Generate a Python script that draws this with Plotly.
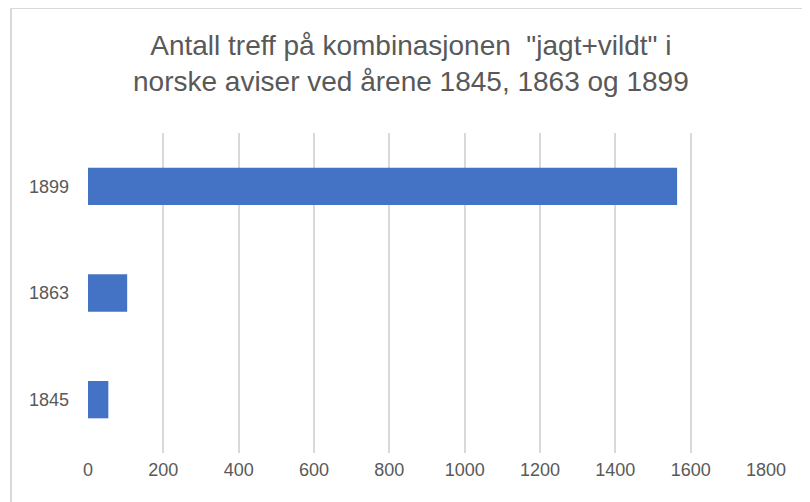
import plotly.graph_objects as go

categories = ["1845", "1863", "1899"]
values = [54, 104, 1564]
x_ticks = [0, 200, 400, 600, 800, 1000, 1200, 1400, 1600, 1800]
title_lines = ['Antall treff på kombinasjonen  "jagt+vildt" i', "norske aviser ved årene 1845, 1863 og 1899"]

# the page body has an 8px margin, so the figure is drawn at (8, 8)
OFF = 8
W, H = 810 - OFF, 502 - OFF
L, T = 88 - OFF, 133 - OFF
R = W - (766 - OFF)
B = H - (453 - OFF)
pw, ph = W - L - R, H - T - B

fig = go.Figure(go.Bar(
    y=categories, x=values, orientation="h",
    marker=dict(color="#4472C4", line=dict(width=0)),
    width=0.35,
))

def px_to_paper_x(sx):
    return (sx - OFF - L) / pw

def px_to_paper_y(sy):
    return 1 - (sy - OFF - T) / ph

fig.update_layout(
    width=W, height=H,
    margin=dict(l=L, r=R, t=T, b=B, pad=0),
    paper_bgcolor="white", plot_bgcolor="white",
    showlegend=False,
    font=dict(family="Liberation Sans, Arial, sans-serif", color="#595959"),
    xaxis=dict(range=[0, 1800], tickvals=x_ticks, showgrid=True, gridcolor="#d9d9d9",
               gridwidth=1.5, zeroline=False, showline=False, ticks="",
               ticklabelstandoff=4,
               tickfont=dict(size=18, color="#595959"), fixedrange=True),
    yaxis=dict(type="category", categoryorder="array", categoryarray=categories,
               showgrid=False, zeroline=False, showline=False, ticks="",
               ticklabelstandoff=18,
               tickfont=dict(size=18, color="#595959"), fixedrange=True),
    bargap=0.65,
    annotations=[dict(text="<br>".join(title_lines), xref="paper", yref="paper",
                      x=px_to_paper_x(411), y=px_to_paper_y(28), xanchor="center", yanchor="top",
                      showarrow=False, font=dict(size=28, color="#595959"))],
    shapes=[
        dict(type="line", xref="paper", yref="paper",
             x0=px_to_paper_x(11), x1=px_to_paper_x(812), y0=px_to_paper_y(8), y1=px_to_paper_y(8),
             line=dict(color="#d9d9d9", width=2)),
        dict(type="line", xref="paper", yref="paper",
             x0=px_to_paper_x(11), x1=px_to_paper_x(11), y0=px_to_paper_y(8), y1=px_to_paper_y(504),
             line=dict(color="#d9d9d9", width=2)),
    ],
)

fig.write_html("out.html")
